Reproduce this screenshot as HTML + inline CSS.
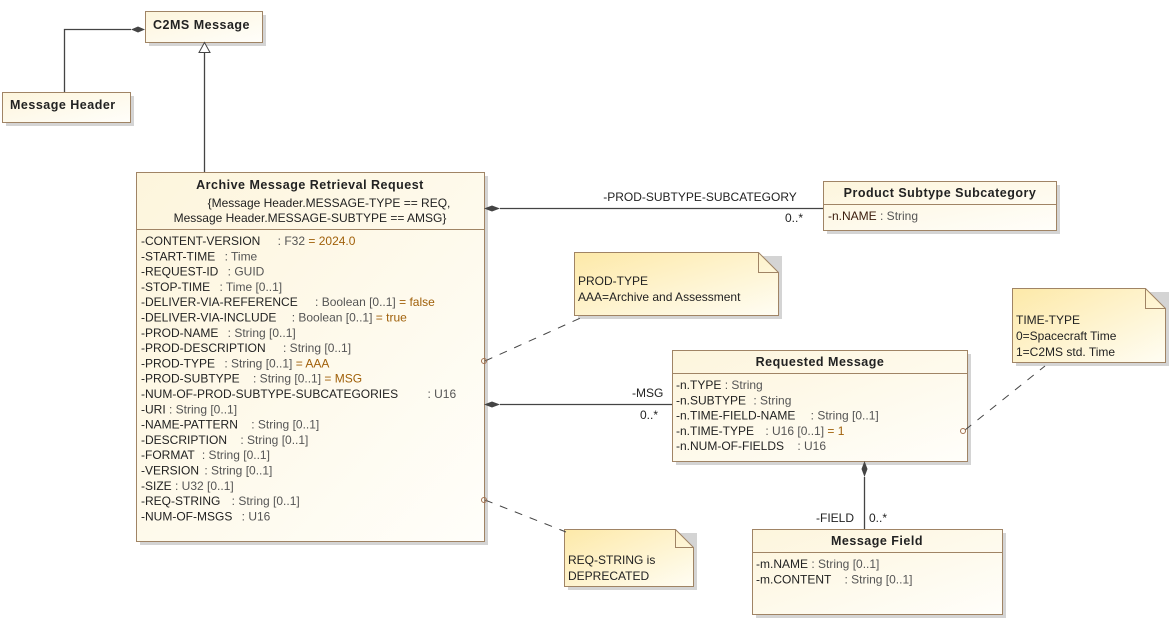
<!DOCTYPE html>
<html><head><meta charset="utf-8"><style>
body{margin:0;background:#fff}
svg{display:block}
text{font-family:"Liberation Sans",sans-serif;font-size:12px;fill:#222}
.b{font-weight:bold;font-size:12.5px;letter-spacing:0.5px}
.t{fill:#555}
.v{fill:#a0600a}
.n{fill:#3a1a0a}
</style></head><body>
<svg width="1175" height="618" viewBox="0 0 1175 618" xmlns="http://www.w3.org/2000/svg">
<defs>
<linearGradient id="g" x1="0" y1="0" x2="1" y2="1"><stop offset="0" stop-color="#fdf5dc"/><stop offset="1" stop-color="#fffefa"/></linearGradient>
<linearGradient id="ng" x1="0" y1="0" x2="1" y2="1"><stop offset="0" stop-color="#fde9a8"/><stop offset="1" stop-color="#fffdf3"/></linearGradient>
</defs>
<g fill="#d4d4d4">
<rect x="149" y="15" width="117" height="31"/>
<rect x="6" y="96" width="128" height="30"/>
<rect x="140" y="176" width="348" height="369"/>
<rect x="827" y="185" width="233" height="49"/>
<rect x="676" y="354" width="295" height="111"/>
<rect x="756" y="533" width="250" height="85"/>
<rect x="578" y="256" width="204" height="63"/>
<rect x="1016" y="292" width="153" height="74"/>
<rect x="568" y="533" width="129" height="57"/>
</g>
<g stroke="#a08465" stroke-width="1" fill="url(#g)">
<rect x="145.5" y="11.5" width="117" height="31"/>
<rect x="2.5" y="92.5" width="128" height="30"/>
<rect x="136.5" y="172.5" width="348" height="369"/>
<line x1="136" y1="229.5" x2="484" y2="229.5"/>
<rect x="823.5" y="181.5" width="233" height="49"/>
<line x1="823" y1="204.5" x2="1056" y2="204.5"/>
<rect x="672.5" y="350.5" width="295" height="111"/>
<line x1="672" y1="373.5" x2="967" y2="373.5"/>
<rect x="752.5" y="529.5" width="250" height="85"/>
<line x1="752" y1="552.5" x2="1002" y2="552.5"/>
</g>
<g stroke="#a08465" fill="url(#ng)">
<path d="M574.5 252.5 H758.5 L778.5 272.5 V315.5 H574.5 Z"/>
<path d="M758.5 252.5 V272.5 H778.5" fill="none"/>
<path d="M1012.5 288.5 H1145.5 L1165.5 308.5 V362.5 H1012.5 Z"/>
<path d="M1145.5 288.5 V308.5 H1165.5" fill="none"/>
<path d="M564.5 529.5 H675.5 L693.5 547.5 V586.5 H564.5 Z"/>
<path d="M675.5 529.5 V547.5 H693.5" fill="none"/>
</g>
<g stroke="#444" stroke-width="1.3" fill="none">
<path d="M64.5 92 V29.5 H131"/>
<path d="M204.5 172 V52"/>
<path d="M500 208.5 H823"/>
<path d="M500 404.5 H672"/>
<path d="M864.5 477 V529"/>
</g>
<g fill="#444">
<path d="M131 29.5 L138 26.5 L145 29.5 L138 32.5 Z"/>
<path d="M484 208.5 L492 205.5 L500 208.5 L492 211.5 Z"/>
<path d="M484 404.5 L492 401.5 L500 404.5 L492 407.5 Z"/>
<path d="M864.5 461 L867.5 469 L864.5 477 L861.5 469 Z"/>
</g>
<path d="M204.5 42.5 L199 52.5 H210 Z" fill="#fff" stroke="#444"/>
<g stroke="#444" stroke-dasharray="8,8" fill="none">
<line x1="485" y1="361" x2="585" y2="316"/>
<line x1="485" y1="500" x2="566" y2="532"/>
<line x1="965" y1="430" x2="1045" y2="366"/>
</g>
<g fill="none" stroke="#a07050"><circle cx="484" cy="361" r="2.5"/><circle cx="484" cy="500" r="2.5"/><circle cx="963" cy="431" r="2.5"/></g>
<text x="153" y="29" class="b">C2MS Message</text>
<text x="10" y="109" class="b">Message Header</text>
<text x="310" y="189" class="b" text-anchor="middle">Archive Message Retrieval Request</text>
<text x="329" y="207" text-anchor="middle">{Message Header.MESSAGE-TYPE == REQ,</text>
<text x="310" y="222" text-anchor="middle">Message Header.MESSAGE-SUBTYPE == AMSG}</text>
<g class="n">
<text x="141" y="245">-CONTENT-VERSION <tspan class="t" dx="14">: F32</tspan> <tspan class="v">= 2024.0</tspan></text>
<text x="141" y="260.3">-START-TIME <tspan class="t" dx="6">: Time</tspan></text>
<text x="141" y="275.6">-REQUEST-ID <tspan class="t" dx="6">: GUID</tspan></text>
<text x="141" y="290.9">-STOP-TIME <tspan class="t" dx="6">: Time [0..1]</tspan></text>
<text x="141" y="306.2">-DELIVER-VIA-REFERENCE <tspan class="t" dx="14">: Boolean [0..1]</tspan> <tspan class="v">= false</tspan></text>
<text x="141" y="321.5">-DELIVER-VIA-INCLUDE <tspan class="t" dx="12">: Boolean [0..1]</tspan> <tspan class="v">= true</tspan></text>
<text x="141" y="336.8">-PROD-NAME <tspan class="t" dx="6">: String [0..1]</tspan></text>
<text x="141" y="352.1">-PROD-DESCRIPTION <tspan class="t" dx="14">: String [0..1]</tspan></text>
<text x="141" y="367.4">-PROD-TYPE <tspan class="t" dx="6">: String [0..1]</tspan> <tspan class="v">= AAA</tspan></text>
<text x="141" y="382.7">-PROD-SUBTYPE <tspan class="t" dx="10">: String [0..1]</tspan> <tspan class="v">= MSG</tspan></text>
<text x="141" y="398">-NUM-OF-PROD-SUBTYPE-SUBCATEGORIES <tspan class="t" dx="26">: U16</tspan></text>
<text x="141" y="413.3">-URI <tspan class="t">: String [0..1]</tspan></text>
<text x="141" y="428.6">-NAME-PATTERN <tspan class="t" dx="10">: String [0..1]</tspan></text>
<text x="141" y="443.9">-DESCRIPTION <tspan class="t" dx="10">: String [0..1]</tspan></text>
<text x="141" y="459.2">-FORMAT <tspan class="t" dx="4">: String [0..1]</tspan></text>
<text x="141" y="474.5">-VERSION <tspan class="t" dx="2">: String [0..1]</tspan></text>
<text x="141" y="489.8">-SIZE <tspan class="t">: U32 [0..1]</tspan></text>
<text x="141" y="505.1">-REQ-STRING <tspan class="t" dx="8">: String [0..1]</tspan></text>
<text x="141" y="520.4">-NUM-OF-MSGS <tspan class="t" dx="6">: U16</tspan></text>
</g>
<text x="940" y="197" class="b" text-anchor="middle">Product Subtype Subcategory</text>
<text x="828" y="220" class="n">-n.NAME <tspan class="t">: String</tspan></text>
<text x="700" y="201" text-anchor="middle">-PROD-SUBTYPE-SUBCATEGORY</text>
<text x="785" y="222">0..*</text>
<text x="820" y="366" class="b" text-anchor="middle">Requested Message</text>
<g class="n">
<text x="676" y="389">-n.TYPE <tspan class="t">: String</tspan></text>
<text x="676" y="404.3">-n.SUBTYPE <tspan class="t" dx="4">: String</tspan></text>
<text x="676" y="419.6">-n.TIME-FIELD-NAME <tspan class="t" dx="12">: String [0..1]</tspan></text>
<text x="676" y="434.9">-n.TIME-TYPE <tspan class="t" dx="8">: U16 [0..1]</tspan> <tspan class="v">= 1</tspan></text>
<text x="676" y="450.2">-n.NUM-OF-FIELDS <tspan class="t" dx="10">: U16</tspan></text>
</g>
<text x="632" y="397">-MSG</text>
<text x="640" y="419">0..*</text>
<text x="877" y="545" class="b" text-anchor="middle">Message Field</text>
<g class="n">
<text x="756" y="568">-m.NAME <tspan class="t">: String [0..1]</tspan></text>
<text x="756" y="583.3">-m.CONTENT <tspan class="t" dx="10">: String [0..1]</tspan></text>
</g>
<text x="816" y="522">-FIELD</text>
<text x="869" y="522">0..*</text>
<text x="578" y="285">PROD-TYPE</text>
<text x="578" y="301">AAA=Archive and Assessment</text>
<text x="1016" y="324">TIME-TYPE</text>
<text x="1016" y="340">0=Spacecraft Time</text>
<text x="1016" y="356">1=C2MS std. Time</text>
<text x="568" y="564">REQ-STRING is</text>
<text x="568" y="580">DEPRECATED</text>
</svg>
</body></html>
